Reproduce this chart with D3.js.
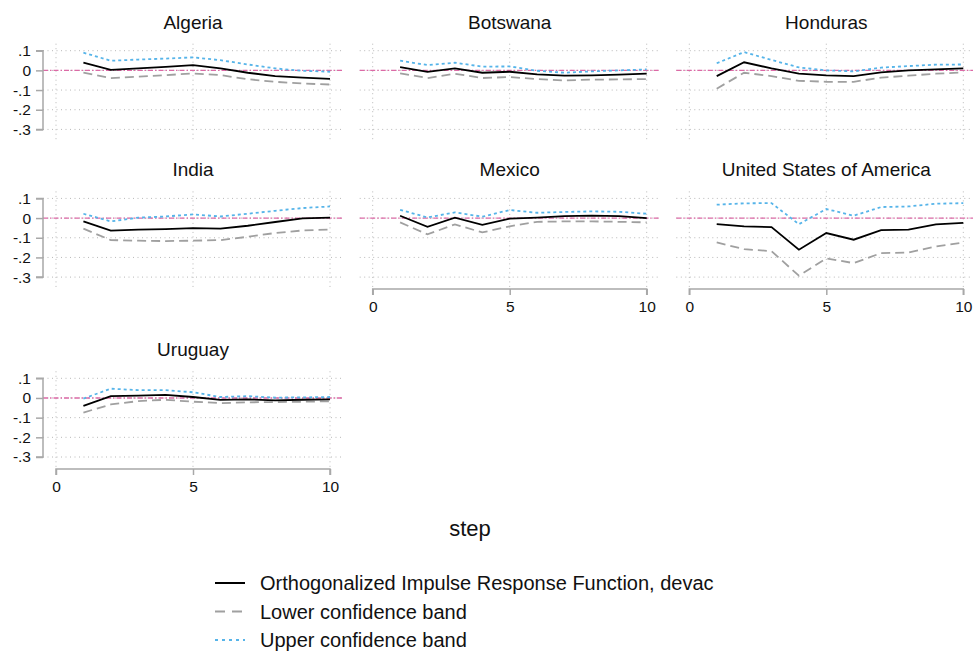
<!DOCTYPE html>
<html>
<head>
<meta charset="utf-8">
<script src="https://cdn.jsdelivr.net/npm/d3@7"></script>
<style>
  html, body { margin: 0; padding: 0; background: #fff; }
  svg { display: block; font-family: "Liberation Sans", Arial, Helvetica, sans-serif; }
</style>
</head>
<body>
<svg id="chart" width="973" height="655"></svg>
<script>
// ---------- data ----------
const steps = [1, 2, 3, 4, 5, 6, 7, 8, 9, 10];
const countries = ["Algeria", "Botswana", "Honduras", "India", "Mexico", "United States of America", "Uruguay"];

const irfAlgeria   = [0.039, 0.003, 0.010, 0.018, 0.027, 0.010, -0.012, -0.029, -0.037, -0.043];
const lowAlgeria   = [-0.012, -0.039, -0.032, -0.024, -0.016, -0.024, -0.045, -0.058, -0.067, -0.072];
const upAlgeria    = [0.090, 0.049, 0.055, 0.060, 0.066, 0.052, 0.030, 0.010, -0.002, -0.007];

const irfBotswana  = [0.017, -0.008, 0.010, -0.012, -0.007, -0.020, -0.027, -0.025, -0.022, -0.017];
const lowBotswana  = [-0.015, -0.039, -0.017, -0.039, -0.034, -0.044, -0.051, -0.047, -0.046, -0.044];
const upBotswana   = [0.049, 0.027, 0.039, 0.019, 0.020, -0.002, -0.012, -0.005, 0.000, 0.005];

const irfHonduras  = [-0.029, 0.041, 0.010, -0.017, -0.025, -0.029, -0.010, 0.000, 0.005, 0.010];
const lowHonduras  = [-0.093, -0.012, -0.029, -0.053, -0.058, -0.058, -0.037, -0.027, -0.017, -0.010];
const upHonduras   = [0.036, 0.093, 0.053, 0.015, 0.000, -0.005, 0.014, 0.022, 0.029, 0.030];

const irfIndia     = [-0.017, -0.064, -0.059, -0.056, -0.051, -0.054, -0.039, -0.020, -0.002, 0.002];
const lowIndia     = [-0.054, -0.112, -0.115, -0.117, -0.115, -0.112, -0.095, -0.076, -0.063, -0.058];
const upIndia      = [0.022, -0.017, 0.002, 0.008, 0.019, 0.008, 0.022, 0.037, 0.051, 0.059];

const irfMexico    = [0.012, -0.044, 0.002, -0.034, -0.003, 0.002, 0.010, 0.012, 0.010, 0.000];
const lowMexico    = [-0.022, -0.083, -0.032, -0.073, -0.042, -0.019, -0.017, -0.017, -0.019, -0.022];
const upMexico     = [0.042, 0.003, 0.029, 0.007, 0.041, 0.027, 0.031, 0.034, 0.032, 0.022];

const irfUSA       = [-0.031, -0.042, -0.046, -0.161, -0.076, -0.110, -0.061, -0.059, -0.032, -0.024];
const lowUSA       = [-0.124, -0.158, -0.168, -0.293, -0.205, -0.229, -0.178, -0.175, -0.144, -0.125];
const upUSA        = [0.068, 0.075, 0.076, -0.031, 0.046, 0.012, 0.056, 0.059, 0.073, 0.076];

const irfUruguay   = [-0.040, 0.009, 0.012, 0.016, 0.005, -0.010, -0.007, -0.012, -0.009, -0.007];
const lowUruguay   = [-0.074, -0.033, -0.016, -0.009, -0.019, -0.026, -0.022, -0.021, -0.019, -0.017];
const upUruguay    = [-0.003, 0.047, 0.040, 0.040, 0.029, 0.005, 0.009, 0.002, 0.003, 0.005];

const irfSeries = [irfAlgeria, irfBotswana, irfHonduras, irfIndia, irfMexico, irfUSA, irfUruguay];
const lowSeries = [lowAlgeria, lowBotswana, lowHonduras, lowIndia, lowMexico, lowUSA, lowUruguay];
const upSeries  = [upAlgeria, upBotswana, upHonduras, upIndia, upMexico, upUSA, upUruguay];

const yTickValues = [0.1, 0, -0.1, -0.2, -0.3];
const yTickLabels = [".1", "0", "-.1", "-.2", "-.3"];
const xTickValues = [0, 5, 10];
const legendLabels = ["Orthogonalized Impulse Response Function, devac", "Lower confidence band", "Upper confidence band"];
const xTitle = "step";

// ---------- layout ----------
const colX0 = [56, 372.7, 689.3];        // pixel of step 0 in each column
const rowTop = [50.7, 198.4, 378.3];      // pixel of y=.1 in each row
const xSpan = 274, ySpan = 78.7;
const showY = [true, false, false, true, false, false, true];
const showX = [false, false, false, false, true, true, true];

const C_IRF = "#000000", C_LOW = "#a0a0a0", C_UP = "#56b4e9", C_ZERO = "#dc6aa6", C_AX = "#a8a8a8", C_GRID = "#b8b8b8";

const svg = d3.select("#chart");

countries.forEach((name, i) => {
  const col = i % 3, row = Math.floor(i / 3);
  const x = d3.scaleLinear().domain([0, 10]).range([colX0[col], colX0[col] + xSpan]);
  const y = d3.scaleLinear().domain([-0.3, 0.1]).range([rowTop[row] + ySpan, rowTop[row]]);
  const left = x(0) - 13, right = x(10) + 13;
  const top = y(0.1) - 7, bottom = y(-0.3) + 12;
  const g = svg.append("g");

  // grid
  g.selectAll("line.hg").data(yTickValues).join("line")
    .attr("x1", left).attr("x2", right)
    .attr("y1", d => y(d)).attr("y2", d => y(d))
    .attr("stroke", C_GRID).attr("stroke-width", 1).attr("stroke-dasharray", "1,3.5");
  g.selectAll("line.vg").data(xTickValues).join("line")
    .attr("x1", d => x(d)).attr("x2", d => x(d))
    .attr("y1", top).attr("y2", bottom)
    .attr("stroke", C_GRID).attr("stroke-width", 1).attr("stroke-dasharray", "1,3.5");

  // zero line
  g.append("line").attr("x1", left).attr("x2", right)
    .attr("y1", y(0)).attr("y2", y(0))
    .attr("stroke", C_ZERO).attr("stroke-width", 1.4).attr("stroke-dasharray", "5,2,1.5,2");

  const line = d3.line().x((d, k) => x(steps[k])).y(d => y(d));
  g.append("path").attr("d", line(lowSeries[i])).attr("fill", "none")
    .attr("stroke", C_LOW).attr("stroke-width", 1.8).attr("stroke-dasharray", "9,5");
  g.append("path").attr("d", line(upSeries[i])).attr("fill", "none")
    .attr("stroke", C_UP).attr("stroke-width", 1.8).attr("stroke-dasharray", "3,3");
  g.append("path").attr("d", line(irfSeries[i])).attr("fill", "none")
    .attr("stroke", C_IRF).attr("stroke-width", 1.8);

  // title
  g.append("text").attr("x", x(5)).attr("y", y(0.1) - 22)
    .attr("text-anchor", "middle").attr("font-size", 19).attr("fill", "#111")
    .text(name);

  if (showY[i]) {
    const ya = g.append("g").attr("transform", `translate(${left},0)`)
      .call(d3.axisLeft(y).tickValues(yTickValues).tickSize(7).tickPadding(5)
        .tickFormat((d, k) => yTickLabels[k]));
    ya.select(".domain").attr("stroke", C_AX).attr("stroke-width", 1.5)
      .attr("d", `M-7,${y(0.1)}H0V${y(-0.3)}H-7`);
    ya.selectAll(".tick line").attr("stroke", C_AX).attr("stroke-width", 1.5);
    ya.selectAll(".tick text").attr("font-size", 15.5).attr("fill", "#111")
      .attr("font-family", "Liberation Sans, Arial, sans-serif");
  }
  if (showX[i]) {
    const xa = g.append("g").attr("transform", `translate(0,${bottom})`)
      .call(d3.axisBottom(x).tickValues(xTickValues).tickSize(6).tickPadding(6).tickFormat(d3.format("d")));
    xa.select(".domain").attr("stroke", C_AX).attr("stroke-width", 1.5)
      .attr("d", `M${x(0)},6V0H${x(10)}V6`);
    xa.selectAll(".tick line").attr("stroke", C_AX).attr("stroke-width", 1.5);
    xa.selectAll(".tick text").attr("font-size", 15.5).attr("fill", "#111")
      .attr("font-family", "Liberation Sans, Arial, sans-serif");
  }
});

// x title
svg.append("text").attr("x", 470).attr("y", 536).attr("text-anchor", "middle")
  .attr("font-size", 22).attr("fill", "#111").text(xTitle);

// legend
const legY = [583, 611.5, 640];
const legStyles = [
  { c: C_IRF, dash: null },
  { c: C_LOW, dash: "10,7" },
  { c: C_UP, dash: "3,4" }
];
const leg = svg.append("g");
legendLabels.forEach((lab, k) => {
  leg.append("line").attr("x1", 215).attr("x2", 245).attr("y1", legY[k]).attr("y2", legY[k])
    .attr("stroke", legStyles[k].c).attr("stroke-width", 2)
    .attr("stroke-dasharray", legStyles[k].dash);
  leg.append("text").attr("x", 260).attr("y", legY[k]).attr("dy", "0.35em")
    .attr("font-size", 20).attr("fill", "#111").text(lab);
});
</script>
</body>
</html>
